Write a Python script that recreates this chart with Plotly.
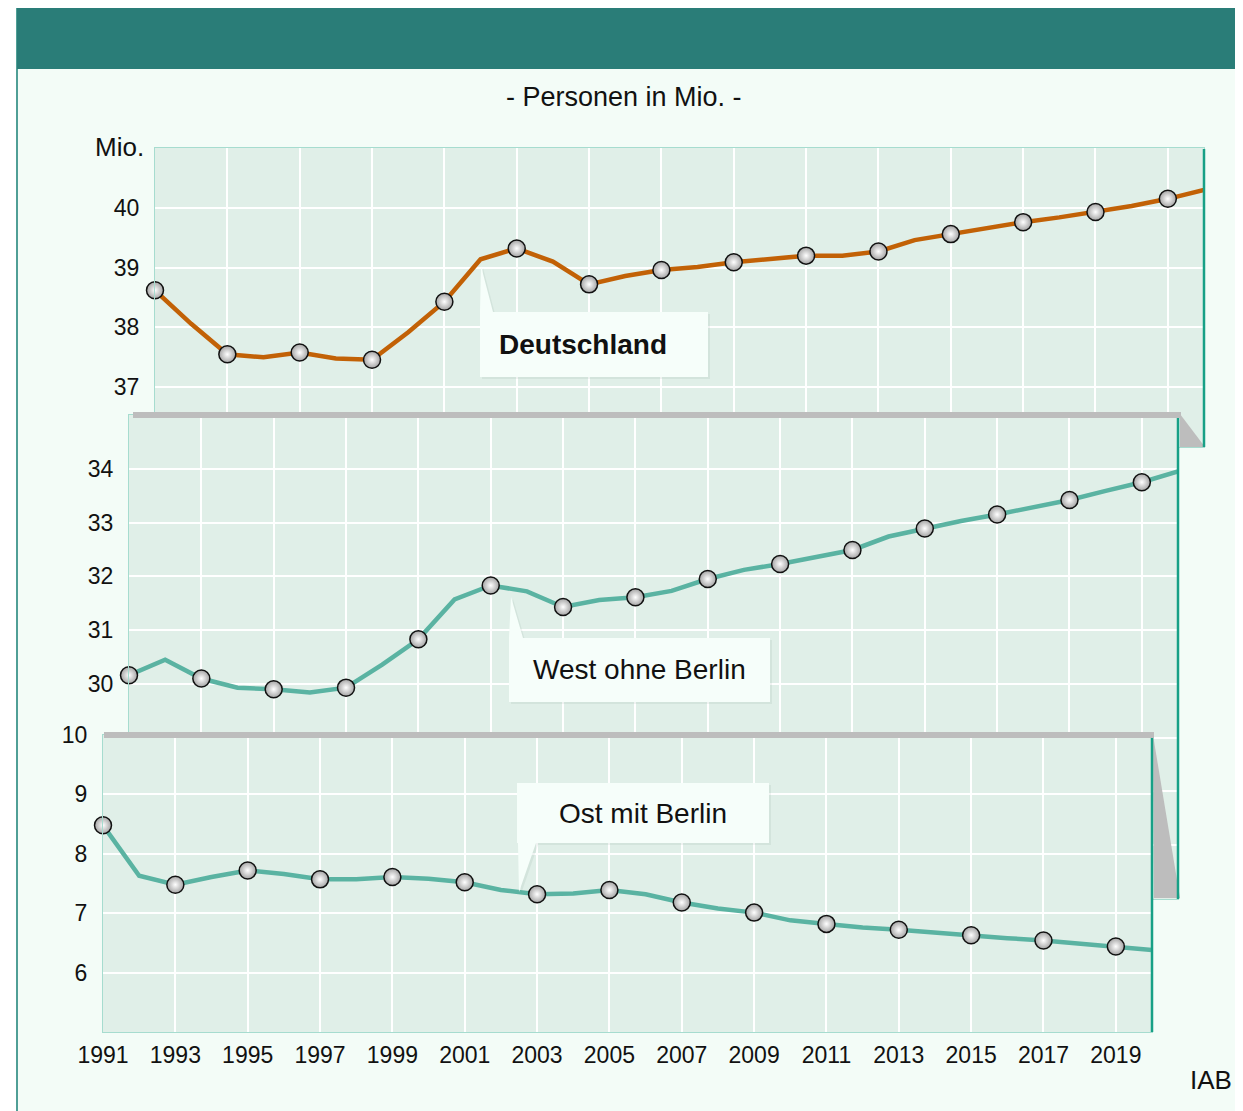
import plotly.graph_objects as go

# data (Mio. persons)
years = list(range(1991, 2021))
deutschland = [38.62, 38.06, 37.55, 37.50, 37.58, 37.48, 37.46, 37.92, 38.43, 39.14,
               39.32, 39.10, 38.72, 38.86, 38.96, 39.01, 39.09, 39.15, 39.20, 39.20,
               39.27, 39.46, 39.56, 39.67, 39.76, 39.84, 39.93, 40.03, 40.15, 40.30]
west = [30.16, 30.45, 30.10, 29.93, 29.90, 29.84, 29.93, 30.36, 30.83, 31.57,
        31.83, 31.72, 31.43, 31.56, 31.61, 31.73, 31.95, 32.12, 32.23, 32.35,
        32.49, 32.74, 32.89, 33.03, 33.15, 33.28, 33.42, 33.59, 33.75, 33.95]
ost = [8.48, 7.63, 7.48, 7.61, 7.72, 7.66, 7.57, 7.57, 7.61, 7.58,
       7.52, 7.39, 7.32, 7.33, 7.39, 7.32, 7.18, 7.08, 7.01, 6.88,
       6.82, 6.76, 6.72, 6.67, 6.63, 6.58, 6.54, 6.49, 6.44, 6.38]
year_ticks = list(range(1991, 2020, 2))
year_labels = [str(y) for y in year_ticks]
ticks_de = [37, 38, 39, 40]
ticks_west = [27, 28, 29, 30, 31, 32, 33, 34]
labels_west = ['', '', '', '30', '31', '32', '33', '34']
ticks_ost = [6, 7, 8, 9, 10]

W, H = 1243, 1111
OFF = 8  # the page body margin shifts the figure by 8px
FONT = 'Arial, Liberation Sans, sans-serif'
BG = '#F3FCF7'
PLOT_BG = '#E0EFE8'
GRAY = '#BDBDBD'
EDGE = '#17A086'
ORANGE = '#C26106'
TEAL = '#5AB3A2'


def fx(x):
    return (x - OFF) / W


def fy(y):
    return 1 - (y - OFF) / H


def path(points):
    return 'M ' + ' L '.join(f'{fx(x):.5f},{fy(y):.5f}' for x, y in points) + ' Z'


fig = go.Figure()

# dummy subplot so every panel gets its own (stacked) background
fig.add_trace(go.Scatter(x=[0], y=[0], mode='markers', marker=dict(opacity=0),
                         hoverinfo='skip', xaxis='x', yaxis='y'))

panels = [
    (deutschland, ORANGE, 'x2', 'y2'),
    (west, TEAL, 'x3', 'y3'),
    (ost, TEAL, 'x4', 'y4'),
]
for values, color, xa, ya in panels:
    fig.add_trace(go.Scatter(
        x=years, y=values, mode='lines',
        line=dict(color=color, width=4.5),
        xaxis=xa, yaxis=ya, hoverinfo='skip'
    ))
    fig.add_trace(go.Scatter(
        x=years[::2], y=values[::2], mode='markers',
        marker=dict(size=17, color='#A4A4A4',
                    gradient=dict(type='radial', color='#FFFFFF'),
                    line=dict(color='#111111', width=1.5)),
        cliponaxis=False, xaxis=xa, yaxis=ya,
        hovertemplate='%{x}: %{y:.2f} Mio.<extra></extra>'
    ))

grid = dict(showgrid=True, gridcolor='white', gridwidth=2, zeroline=False,
            showline=True, linecolor='#A6DCCF', linewidth=1, mirror=True,
            automargin=False)
xcommon = dict(range=[1991, 2020], tickvals=year_ticks, **grid)
ycommon = dict(ticks='outside', ticklen=10, tickcolor='rgba(0,0,0,0)',
               tickfont=dict(size=23, color='#111111'), **grid)

fig.update_layout(
    width=W, height=H,
    margin=dict(l=0, r=0, t=0, b=0, autoexpand=False),
    autosize=False,
    paper_bgcolor='white',
    plot_bgcolor=PLOT_BG,
    showlegend=False,
    font=dict(family=FONT, color='#111111', size=23),
    xaxis=dict(domain=[fx(400), fx(410)], visible=False),
    yaxis=dict(domain=[fy(740), fy(440)], visible=False, range=[1, 2]),
    xaxis2=dict(domain=[fx(155), fx(1204)], anchor='y2', showticklabels=False, **xcommon),
    yaxis2=dict(domain=[fy(447), fy(148)], anchor='x2', range=[36, 41],
                tickvals=ticks_de, **ycommon),
    xaxis3=dict(domain=[fx(129), fx(1178)], anchor='y3', showticklabels=False, **xcommon),
    yaxis3=dict(domain=[fy(899), fy(415)], anchor='x3', range=[26, 35],
                tickvals=ticks_west, ticktext=labels_west, **ycommon),
    xaxis4=dict(domain=[fx(103), fx(1152)], anchor='y4', ticktext=year_labels,
                ticks='outside', ticklen=2, tickcolor='rgba(0,0,0,0)',
                tickfont=dict(size=23, color='#111111'), **xcommon),
    yaxis4=dict(domain=[fy(1032), fy(735)], anchor='x4', range=[5, 10],
                tickvals=ticks_ost, **ycommon),
)

shapes = [
    # page frame and header
    dict(type='rect', xref='paper', yref='paper', layer='below',
         x0=fx(17), x1=1.05, y0=-0.05, y1=fy(6),
         fillcolor=BG, line=dict(color='#4F9F96', width=2)),
    dict(type='rect', xref='paper', yref='paper', layer='below',
         x0=fx(17), x1=1.05, y0=fy(69), y1=fy(6),
         fillcolor='#2A7D78', line=dict(width=0)),
    # 3d edges of the stacked panels
    dict(type='rect', xref='paper', yref='paper', layer='above',
         x0=fx(133), x1=fx(1181), y0=fy(418), y1=fy(412),
         fillcolor=GRAY, line=dict(width=0)),
    dict(type='path', xref='paper', yref='paper', layer='above',
         path=path([(1180, 414), (1205, 447), (1180, 447)]),
         fillcolor=GRAY, line=dict(width=0)),
    dict(type='rect', xref='paper', yref='paper', layer='above',
         x0=fx(104), x1=fx(1154), y0=fy(738), y1=fy(732),
         fillcolor=GRAY, line=dict(width=0)),
    dict(type='path', xref='paper', yref='paper', layer='above',
         path=path([(1153, 735), (1180, 898), (1154, 898)]),
         fillcolor=GRAY, line=dict(width=0)),
]
for x, y0, y1 in [(1204, 149, 447), (1178, 418, 899), (1152, 738, 1032)]:
    shapes.append(dict(type='line', xref='paper', yref='paper', layer='above',
                       x0=fx(x), x1=fx(x), y0=fy(y0), y1=fy(y1),
                       line=dict(color=EDGE, width=2.5)))

# callout boxes with pointers
callouts = [
    [(481, 266), (493, 312), (708, 312), (708, 377), (480, 377), (480, 312)],
    [(511, 597), (523, 638), (770, 638), (770, 702), (509, 702), (509, 638)],
    [(517, 783), (769, 783), (769, 843), (536, 843), (519, 892), (518, 843), (517, 843)],
]
for pts in callouts:
    shadow = [(x + 2, y + 2) for x, y in pts]
    shapes.append(dict(type='path', xref='paper', yref='paper', layer='above',
                       path=path(shadow), fillcolor='rgba(120,150,140,0.12)',
                       line=dict(width=0)))
    shapes.append(dict(type='path', xref='paper', yref='paper', layer='above',
                       path=path(pts), fillcolor='#F6FEFA', line=dict(width=0)))
fig.update_layout(shapes=shapes)

texts = [
    ('- Personen in Mio. -', 624, 97, 'center', 27, False),
    ('Mio.', 146, 147, 'right', 26, False),
    ('Deutschland', 583, 344, 'center', 28, True),
    ('West ohne Berlin', 639, 669, 'center', 28, False),
    ('Ost mit Berlin', 643, 813, 'center', 28, False),
    ('IAB', 1234, 1080, 'right', 26, False),
]
for text, x, y, anchor, size, bold in texts:
    fig.add_annotation(
        text=f'<b>{text}</b>' if bold else text,
        xref='paper', yref='paper', x=fx(x), y=fy(y),
        xanchor=anchor, yanchor='middle', showarrow=False,
        font=dict(family=FONT, size=size, color='#111111')
    )

fig.write_html('out.html')
